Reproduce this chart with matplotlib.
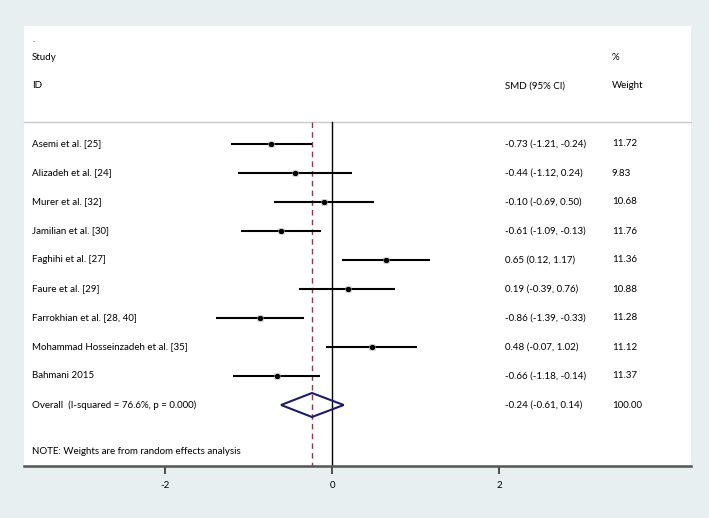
import numpy as np
import matplotlib
matplotlib.use('Agg')
from matplotlib import pyplot as plt
from matplotlib.patches import Polygon
import matplotlib.transforms as mtransforms

#data
studies=['Asemi et al. [25]','Alizadeh et al. [24]','Murer et al. [32]','Jamilian et al. [30]',
         'Faghihi et al. [27]','Faure et al. [29]','Farrokhian et al. [28, 40]',
         'Mohammad Hosseinzadeh et al. [35]','Bahmani 2015']
smd=[-0.73,-0.44,-0.10,-0.61,0.65,0.19,-0.86,0.48,-0.66]
lo=[-1.21,-1.12,-0.69,-1.09,0.12,-0.39,-1.39,-0.07,-1.18]
hi=[-0.24,0.24,0.50,-0.13,1.17,0.76,-0.33,1.02,-0.14]
weight=[11.72,9.83,10.68,11.76,11.36,10.88,11.28,11.12,11.37]
overall=(-0.24,-0.61,0.14)
overall_label='Overall  (I-squared = 76.6%, p = 0.000)'
note='NOTE: Weights are from random effects analysis'
xticks=[-2,0,2]

plt.rcParams['font.family']=['Lato','DejaVu Sans']
bg='#e8eff1'
fig=plt.figure(figsize=(7.09,5.18),dpi=100,facecolor=bg)
W,H=709,518
ax=fig.add_axes([24/W,(H-466)/H,(691-24)/W,(466-26)/H])
ax.set_facecolor('white')
ax.set_xlim((24-332)/83.5,(691-332)/83.5)
ax.set_ylim(466,26)

#row layout (pixel-like units)
row_y=[144+29*i for i in range(len(studies))]
y_over=144+29*len(studies)
fs=7
tx=mtransforms.blended_transform_factory(ax.transAxes,ax.transData)
xl,xs,xw=(32-24)/667,(505-24)/667,(612-24)/667

#headers
ax.text(xl,40,'.',transform=tx,fontsize=fs,va='center')
ax.text(xl,57,'Study',transform=tx,fontsize=fs,va='center')
ax.text(xl,86,'ID',transform=tx,fontsize=fs,va='center')
ax.text(xs,86,'SMD (95% CI)',transform=tx,fontsize=fs,va='center')
ax.text(xw,57,'%',transform=tx,fontsize=fs,va='center')
ax.text(xw,86,'Weight',transform=tx,fontsize=fs,va='center')
ax.plot([0,1],[122,122],transform=tx,color='#c8c8c8',lw=1,clip_on=False)

#reference lines
ax.plot([0,0],[122,466],color='black',lw=1,zorder=2)
ax.plot([overall[0]]*2,[122,466],color='#8b3a4f',lw=1,ls=(0,(4,3)),zorder=2)

#studies
for i,y in enumerate(row_y):
    ax.plot([lo[i],hi[i]],[y,y],color='black',lw=1.5,zorder=3,solid_capstyle='butt')
    ax.plot(smd[i],y,marker='s',ms=weight[i]*0.38,color='#b8b8b8',mec='none',zorder=3)
    ax.plot(smd[i],y,marker='o',ms=2.8,color='black',zorder=4)
    ax.text(xl,y,studies[i],transform=tx,fontsize=fs,va='center')
    ax.text(xs,y,f'{smd[i]:.2f} ({lo[i]:.2f}, {hi[i]:.2f})',transform=tx,fontsize=fs,va='center')
    ax.text(xw,y,f'{weight[i]:.2f}',transform=tx,fontsize=fs,va='center')

#overall diamond
e,l,h=overall
ax.add_patch(Polygon([[l,y_over],[e,y_over-12],[h,y_over],[e,y_over+12]],closed=True,
                     fill=False,edgecolor='#1c1c6b',lw=1.5,zorder=4))
ax.text(xl,y_over,overall_label,transform=tx,fontsize=fs,va='center')
ax.text(xs,y_over,f'{e:.2f} ({l:.2f}, {h:.2f})',transform=tx,fontsize=fs,va='center')
ax.text(xw,y_over,f'{sum(weight):.2f}',transform=tx,fontsize=fs,va='center')
ax.text(xl,451,note,transform=tx,fontsize=fs,va='center')

#axis
for s in ['top','left','right']:
    ax.spines[s].set_visible(False)
ax.spines['bottom'].set_color('#555555')
ax.spines['bottom'].set_linewidth(1.8)
ax.set_yticks([])
ax.set_xticks(xticks)
ax.set_xticklabels([str(t) for t in xticks],fontsize=fs)
ax.tick_params(axis='x',direction='out',length=6,width=1.2,color='#333333',pad=5)

plt.savefig('out.png',dpi=100,facecolor=bg)
